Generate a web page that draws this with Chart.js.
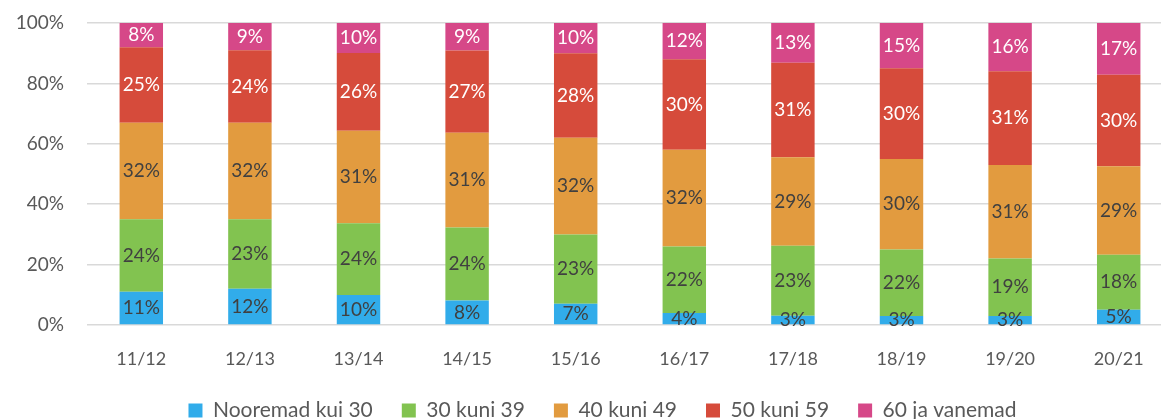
<!DOCTYPE html>
<html>
<head>
<meta charset="utf-8">
<script src="https://cdn.jsdelivr.net/npm/chart.js@4"></script>
<style>
  html, body { margin: 0; padding: 0; background: #fff; overflow: hidden; }
  #wrap { position: relative; width: 1173px; height: 431px; }
</style>
</head>
<body>
<div id="wrap"><canvas id="ageChart"></canvas></div>
<script>
const seasons = ["11/12", "12/13", "13/14", "14/15", "15/16", "16/17", "17/18", "18/19", "19/20", "20/21"];

const under30 = [11, 12, 10, 8, 7, 4, 3, 3, 3, 5];
const age30to39 = [24, 23, 24, 24, 23, 22, 23, 22, 19, 18];
const age40to49 = [32, 32, 31, 31, 32, 32, 29, 30, 31, 29];
const age50to59 = [25, 24, 26, 27, 28, 30, 31, 30, 31, 30];
const age60plus = [8, 9, 10, 9, 10, 12, 13, 15, 16, 17];

const seriesNames = ["Nooremad kui 30", "30 kuni 39", "40 kuni 49", "50 kuni 59", "60 ja vanemad"];
const yTicks = [0, 20, 40, 60, 80, 100];

Chart.defaults.font.family = "Lato, 'Open Sans', sans-serif";
Chart.defaults.color = "#595959";

const allSeries = [under30, age30to39, age40to49, age50to59, age60plus];
const colors = ["#31ACEA", "#82C350", "#E29B3F", "#D64B3B", "#D64888"];
const labelColors = ["#404040", "#404040", "#404040", "#fff", "#fff"];

// 100% stacked: every season is scaled to its own total
const totals = seasons.map((s, i) => allSeries.reduce((sum, arr) => sum + arr[i], 0));

const segmentLabels = {
  id: "segmentLabels",
  afterLayout(chart) {
    // legend in the original is centred a bit to the right of the canvas middle
    chart.legend.left += 16;
    chart.legend.right += 16;
  },
  afterDatasetsDraw(chart) {
    const { ctx } = chart;
    ctx.save();
    ctx.font = "19px Lato";
    ctx.textAlign = "center";
    ctx.textBaseline = "middle";
    chart.data.datasets.forEach((ds, di) => {
      const meta = chart.getDatasetMeta(di);
      ctx.fillStyle = labelColors[di];
      meta.data.forEach((bar, i) => {
        const { x, y, base } = bar.getProps(["x", "y", "base"], true);
        ctx.fillText(ds.raw[i] + "%", x, (y + base) / 2);
      });
    });
    ctx.restore();
  },
};

const data = {
  labels: seasons,
  datasets: allSeries.map((arr, k) => ({
    label: seriesNames[k],
    raw: arr,
    data: arr.map((v, i) => (v / totals[i]) * 100),
    backgroundColor: colors[k],
    barPercentage: 0.4,
    categoryPercentage: 1,
  })),
};

const options = {
  responsive: true,
  maintainAspectRatio: false,
  animation: false,
  layout: { padding: { top: 23, left: 0, right: 0, bottom: 0 } },
  plugins: {
    tooltip: { enabled: false },
    legend: {
      position: "bottom",
      labels: {
        boxWidth: 14,
        boxHeight: 14,
        padding: 29,
        color: "#595959",
        font: { size: 21 },
      },
    },
  },
  scales: {
    x: {
      stacked: true,
      afterFit: (scale) => { scale.height = 46; },
      grid: { display: false, tickLength: 8 },
      border: { display: false },
      ticks: { padding: 15, font: { size: 18 }, color: "#595959" },
    },
    y: {
      stacked: true,
      min: 0,
      max: 100,
      afterFit: (scale) => {
        scale.width = 87;
        scale.paddingTop = 0;
        scale.paddingBottom = 0;
      },
      afterBuildTicks: (scale) => { scale.ticks = yTicks.map((v) => ({ value: v })); },
      grid: { color: "#D9D9D9", lineWidth: 1.5, drawTicks: false },
      border: { display: false },
      ticks: { padding: 23, font: { size: 19 }, color: "#595959", callback: (v) => v + "%" },
    },
  },
};

new Chart("ageChart", { type: "bar", data, options, plugins: [segmentLabels] });
</script>
</body>
</html>
